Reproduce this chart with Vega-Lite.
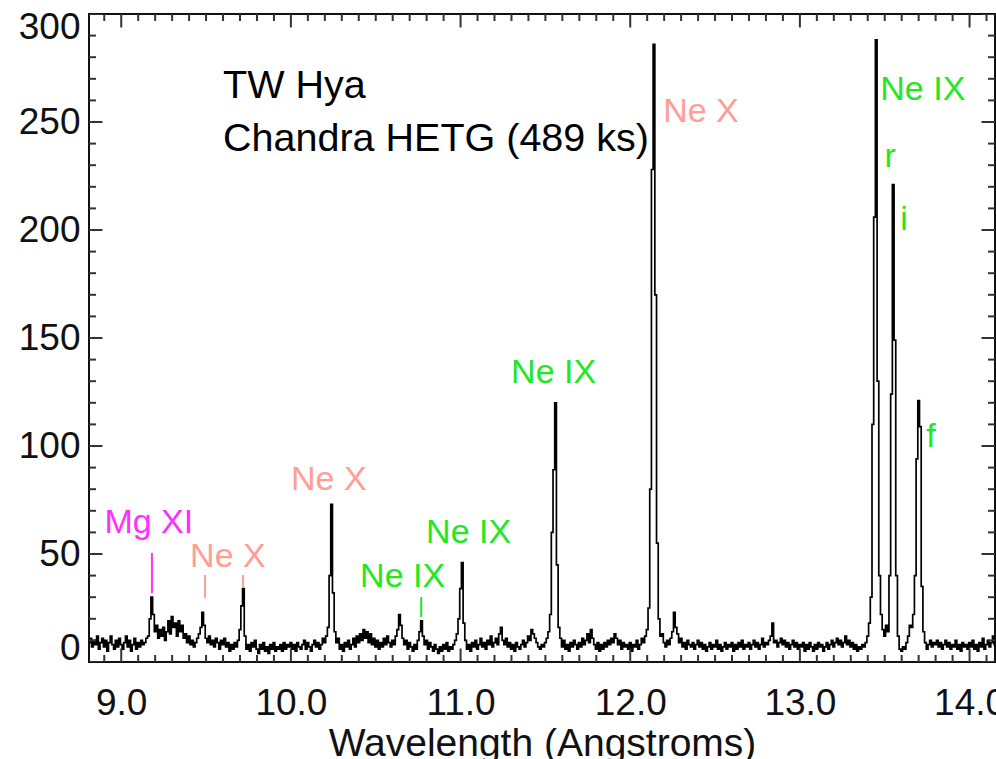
{
"$schema": "https://vega.github.io/schema/vega-lite/v6.json",
"width": 906, "height": 648,
"autosize": "none",
"padding": {"left": 89, "top": 14, "right": 1, "bottom": 97},
"background": "white",
"datasets": {
"spec": [
{"w":8.81,"c":9},{"w":8.82,"c":11},{"w":8.83,"c":7},{"w":8.84,"c":10},{"w":8.85,"c":8},{"w":8.86,"c":12},{"w":8.87,"c":6},{"w":8.88,"c":9},{"w":8.89,"c":11},{"w":8.90,"c":7},
{"w":8.91,"c":10},{"w":8.92,"c":5},{"w":8.93,"c":9},{"w":8.94,"c":12},{"w":8.95,"c":8},{"w":8.96,"c":6},{"w":8.97,"c":10},{"w":8.98,"c":7},{"w":8.99,"c":11},{"w":9.00,"c":8},
{"w":9.01,"c":6},{"w":9.02,"c":9},{"w":9.03,"c":12},{"w":9.04,"c":7},{"w":9.05,"c":10},{"w":9.06,"c":5},{"w":9.07,"c":8},{"w":9.08,"c":11},{"w":9.09,"c":6},{"w":9.10,"c":9},
{"w":9.11,"c":7},{"w":9.12,"c":10},{"w":9.13,"c":8},{"w":9.14,"c":9},{"w":9.15,"c":11},{"w":9.16,"c":12},{"w":9.17,"c":20},{"w":9.18,"c":30},{"w":9.19,"c":22},{"w":9.20,"c":14},
{"w":9.21,"c":17},{"w":9.22,"c":11},{"w":9.23,"c":15},{"w":9.24,"c":12},{"w":9.25,"c":16},{"w":9.26,"c":10},{"w":9.27,"c":14},{"w":9.28,"c":19},{"w":9.29,"c":13},{"w":9.30,"c":21},
{"w":9.31,"c":16},{"w":9.32,"c":18},{"w":9.33,"c":12},{"w":9.34,"c":19},{"w":9.35,"c":14},{"w":9.36,"c":17},{"w":9.37,"c":11},{"w":9.38,"c":13},{"w":9.39,"c":9},{"w":9.40,"c":12},
{"w":9.41,"c":8},{"w":9.42,"c":10},{"w":9.43,"c":7},{"w":9.44,"c":9},{"w":9.45,"c":11},{"w":9.46,"c":13},{"w":9.47,"c":16},{"w":9.48,"c":23},{"w":9.49,"c":17},{"w":9.50,"c":11},
{"w":9.51,"c":9},{"w":9.52,"c":12},{"w":9.53,"c":8},{"w":9.54,"c":10},{"w":9.55,"c":7},{"w":9.56,"c":11},{"w":9.57,"c":9},{"w":9.58,"c":6},{"w":9.59,"c":10},{"w":9.60,"c":8},
{"w":9.61,"c":11},{"w":9.62,"c":7},{"w":9.63,"c":9},{"w":9.64,"c":5},{"w":9.65,"c":8},{"w":9.66,"c":6},{"w":9.67,"c":9},{"w":9.68,"c":7},{"w":9.69,"c":10},{"w":9.70,"c":15},
{"w":9.71,"c":26},{"w":9.72,"c":34},{"w":9.73,"c":12},{"w":9.74,"c":6},{"w":9.75,"c":8},{"w":9.76,"c":5},{"w":9.77,"c":9},{"w":9.78,"c":7},{"w":9.79,"c":10},{"w":9.80,"c":6},
{"w":9.81,"c":4},{"w":9.82,"c":8},{"w":9.83,"c":6},{"w":9.84,"c":9},{"w":9.85,"c":5},{"w":9.86,"c":7},{"w":9.87,"c":4},{"w":9.88,"c":8},{"w":9.89,"c":6},{"w":9.90,"c":9},
{"w":9.91,"c":5},{"w":9.92,"c":7},{"w":9.93,"c":6},{"w":9.94,"c":8},{"w":9.95,"c":5},{"w":9.96,"c":9},{"w":9.97,"c":6},{"w":9.98,"c":8},{"w":9.99,"c":7},{"w":10.00,"c":9},
{"w":10.01,"c":6},{"w":10.02,"c":8},{"w":10.03,"c":5},{"w":10.04,"c":9},{"w":10.05,"c":7},{"w":10.06,"c":6},{"w":10.07,"c":8},{"w":10.08,"c":10},{"w":10.09,"c":6},{"w":10.10,"c":9},
{"w":10.11,"c":7},{"w":10.12,"c":5},{"w":10.13,"c":8},{"w":10.14,"c":10},{"w":10.15,"c":7},{"w":10.16,"c":9},{"w":10.17,"c":6},{"w":10.18,"c":8},{"w":10.19,"c":11},{"w":10.20,"c":9},
{"w":10.21,"c":12},{"w":10.22,"c":16},{"w":10.23,"c":40},{"w":10.24,"c":73},{"w":10.25,"c":32},{"w":10.26,"c":14},{"w":10.27,"c":9},{"w":10.28,"c":11},{"w":10.29,"c":6},{"w":10.30,"c":8},
{"w":10.31,"c":5},{"w":10.32,"c":9},{"w":10.33,"c":7},{"w":10.34,"c":10},{"w":10.35,"c":6},{"w":10.36,"c":8},{"w":10.37,"c":11},{"w":10.38,"c":7},{"w":10.39,"c":12},{"w":10.40,"c":9},
{"w":10.41,"c":13},{"w":10.42,"c":10},{"w":10.43,"c":15},{"w":10.44,"c":11},{"w":10.45,"c":14},{"w":10.46,"c":9},{"w":10.47,"c":13},{"w":10.48,"c":8},{"w":10.49,"c":11},{"w":10.50,"c":7},
{"w":10.51,"c":10},{"w":10.52,"c":6},{"w":10.53,"c":9},{"w":10.54,"c":7},{"w":10.55,"c":11},{"w":10.56,"c":8},{"w":10.57,"c":12},{"w":10.58,"c":9},{"w":10.59,"c":7},{"w":10.60,"c":10},
{"w":10.61,"c":8},{"w":10.62,"c":12},{"w":10.63,"c":15},{"w":10.64,"c":22},{"w":10.65,"c":17},{"w":10.66,"c":11},{"w":10.67,"c":8},{"w":10.68,"c":10},{"w":10.69,"c":6},{"w":10.70,"c":9},
{"w":10.71,"c":7},{"w":10.72,"c":5},{"w":10.73,"c":8},{"w":10.74,"c":6},{"w":10.75,"c":10},{"w":10.76,"c":14},{"w":10.77,"c":19},{"w":10.78,"c":12},{"w":10.79,"c":8},{"w":10.80,"c":10},
{"w":10.81,"c":6},{"w":10.82,"c":9},{"w":10.83,"c":7},{"w":10.84,"c":5},{"w":10.85,"c":8},{"w":10.86,"c":6},{"w":10.87,"c":4},{"w":10.88,"c":7},{"w":10.89,"c":5},{"w":10.90,"c":8},
{"w":10.91,"c":6},{"w":10.92,"c":9},{"w":10.93,"c":5},{"w":10.94,"c":7},{"w":10.95,"c":6},{"w":10.96,"c":8},{"w":10.97,"c":10},{"w":10.98,"c":13},{"w":10.99,"c":20},{"w":11.00,"c":34},
{"w":11.01,"c":46},{"w":11.02,"c":18},{"w":11.03,"c":10},{"w":11.04,"c":6},{"w":11.05,"c":8},{"w":11.06,"c":5},{"w":11.07,"c":9},{"w":11.08,"c":7},{"w":11.09,"c":10},{"w":11.10,"c":6},
{"w":11.11,"c":8},{"w":11.12,"c":11},{"w":11.13,"c":7},{"w":11.14,"c":9},{"w":11.15,"c":6},{"w":11.16,"c":10},{"w":11.17,"c":8},{"w":11.18,"c":12},{"w":11.19,"c":7},{"w":11.20,"c":9},
{"w":11.21,"c":11},{"w":11.22,"c":8},{"w":11.23,"c":13},{"w":11.24,"c":16},{"w":11.25,"c":10},{"w":11.26,"c":8},{"w":11.27,"c":11},{"w":11.28,"c":7},{"w":11.29,"c":9},{"w":11.30,"c":6},
{"w":11.31,"c":8},{"w":11.32,"c":5},{"w":11.33,"c":9},{"w":11.34,"c":7},{"w":11.35,"c":6},{"w":11.36,"c":8},{"w":11.37,"c":10},{"w":11.38,"c":7},{"w":11.39,"c":9},{"w":11.40,"c":12},
{"w":11.41,"c":10},{"w":11.42,"c":15},{"w":11.43,"c":13},{"w":11.44,"c":11},{"w":11.45,"c":9},{"w":11.46,"c":7},{"w":11.47,"c":6},{"w":11.48,"c":8},{"w":11.49,"c":7},{"w":11.50,"c":9},
{"w":11.51,"c":11},{"w":11.52,"c":14},{"w":11.53,"c":22},{"w":11.54,"c":60},{"w":11.55,"c":89},{"w":11.56,"c":120},{"w":11.57,"c":45},{"w":11.58,"c":16},{"w":11.59,"c":11},{"w":11.60,"c":7},
{"w":11.61,"c":10},{"w":11.62,"c":6},{"w":11.63,"c":8},{"w":11.64,"c":5},{"w":11.65,"c":9},{"w":11.66,"c":7},{"w":11.67,"c":10},{"w":11.68,"c":8},{"w":11.69,"c":6},{"w":11.70,"c":9},
{"w":11.71,"c":7},{"w":11.72,"c":11},{"w":11.73,"c":8},{"w":11.74,"c":10},{"w":11.75,"c":13},{"w":11.76,"c":9},{"w":11.77,"c":15},{"w":11.78,"c":11},{"w":11.79,"c":8},{"w":11.80,"c":6},
{"w":11.81,"c":9},{"w":11.82,"c":5},{"w":11.83,"c":8},{"w":11.84,"c":6},{"w":11.85,"c":9},{"w":11.86,"c":7},{"w":11.87,"c":10},{"w":11.88,"c":8},{"w":11.89,"c":11},{"w":11.90,"c":9},
{"w":11.91,"c":13},{"w":11.92,"c":11},{"w":11.93,"c":8},{"w":11.94,"c":10},{"w":11.95,"c":6},{"w":11.96,"c":9},{"w":11.97,"c":7},{"w":11.98,"c":8},{"w":11.99,"c":6},{"w":12.00,"c":9},
{"w":12.01,"c":5},{"w":12.02,"c":8},{"w":12.03,"c":7},{"w":12.04,"c":10},{"w":12.05,"c":6},{"w":12.06,"c":8},{"w":12.07,"c":11},{"w":12.08,"c":9},{"w":12.09,"c":12},{"w":12.10,"c":15},
{"w":12.11,"c":25},{"w":12.12,"c":80},{"w":12.13,"c":228},{"w":12.14,"c":286},{"w":12.15,"c":170},{"w":12.16,"c":55},{"w":12.17,"c":20},{"w":12.18,"c":12},{"w":12.19,"c":13},{"w":12.20,"c":9},
{"w":12.21,"c":7},{"w":12.22,"c":10},{"w":12.23,"c":8},{"w":12.24,"c":11},{"w":12.25,"c":14},{"w":12.26,"c":23},{"w":12.27,"c":16},{"w":12.28,"c":13},{"w":12.29,"c":9},{"w":12.30,"c":11},
{"w":12.31,"c":7},{"w":12.32,"c":9},{"w":12.33,"c":6},{"w":12.34,"c":10},{"w":12.35,"c":8},{"w":12.36,"c":7},{"w":12.37,"c":9},{"w":12.38,"c":6},{"w":12.39,"c":8},{"w":12.40,"c":10},
{"w":12.41,"c":7},{"w":12.42,"c":9},{"w":12.43,"c":6},{"w":12.44,"c":8},{"w":12.45,"c":5},{"w":12.46,"c":7},{"w":12.47,"c":9},{"w":12.48,"c":6},{"w":12.49,"c":8},{"w":12.50,"c":7},
{"w":12.51,"c":10},{"w":12.52,"c":6},{"w":12.53,"c":8},{"w":12.54,"c":5},{"w":12.55,"c":7},{"w":12.56,"c":9},{"w":12.57,"c":6},{"w":12.58,"c":8},{"w":12.59,"c":7},{"w":12.60,"c":9},
{"w":12.61,"c":5},{"w":12.62,"c":8},{"w":12.63,"c":6},{"w":12.64,"c":9},{"w":12.65,"c":7},{"w":12.66,"c":10},{"w":12.67,"c":6},{"w":12.68,"c":8},{"w":12.69,"c":7},{"w":12.70,"c":9},
{"w":12.71,"c":6},{"w":12.72,"c":8},{"w":12.73,"c":10},{"w":12.74,"c":7},{"w":12.75,"c":9},{"w":12.76,"c":6},{"w":12.77,"c":8},{"w":12.78,"c":11},{"w":12.79,"c":7},{"w":12.80,"c":9},
{"w":12.81,"c":8},{"w":12.82,"c":10},{"w":12.83,"c":12},{"w":12.84,"c":18},{"w":12.85,"c":9},{"w":12.86,"c":10},{"w":12.87,"c":7},{"w":12.88,"c":9},{"w":12.89,"c":11},{"w":12.90,"c":8},
{"w":12.91,"c":10},{"w":12.92,"c":7},{"w":12.93,"c":9},{"w":12.94,"c":6},{"w":12.95,"c":8},{"w":12.96,"c":10},{"w":12.97,"c":7},{"w":12.98,"c":9},{"w":12.99,"c":6},{"w":13.00,"c":8},
{"w":13.01,"c":7},{"w":13.02,"c":9},{"w":13.03,"c":5},{"w":13.04,"c":8},{"w":13.05,"c":6},{"w":13.06,"c":9},{"w":13.07,"c":7},{"w":13.08,"c":5},{"w":13.09,"c":8},{"w":13.10,"c":6},
{"w":13.11,"c":9},{"w":13.12,"c":7},{"w":13.13,"c":8},{"w":13.14,"c":5},{"w":13.15,"c":7},{"w":13.16,"c":9},{"w":13.17,"c":6},{"w":13.18,"c":8},{"w":13.19,"c":10},{"w":13.20,"c":7},
{"w":13.21,"c":9},{"w":13.22,"c":11},{"w":13.23,"c":8},{"w":13.24,"c":10},{"w":13.25,"c":7},{"w":13.26,"c":9},{"w":13.27,"c":12},{"w":13.28,"c":8},{"w":13.29,"c":10},{"w":13.30,"c":7},
{"w":13.31,"c":9},{"w":13.32,"c":6},{"w":13.33,"c":8},{"w":13.34,"c":5},{"w":13.35,"c":7},{"w":13.36,"c":6},{"w":13.37,"c":8},{"w":13.38,"c":7},{"w":13.39,"c":9},{"w":13.40,"c":12},
{"w":13.41,"c":18},{"w":13.42,"c":30},{"w":13.43,"c":110},{"w":13.44,"c":206},{"w":13.45,"c":288},{"w":13.46,"c":130},{"w":13.47,"c":40},{"w":13.48,"c":22},{"w":13.49,"c":15},{"w":13.50,"c":12},
{"w":13.51,"c":17},{"w":13.52,"c":14},{"w":13.53,"c":40},{"w":13.54,"c":124},{"w":13.55,"c":221},{"w":13.56,"c":149},{"w":13.57,"c":40},{"w":13.58,"c":12},{"w":13.59,"c":6},{"w":13.60,"c":5},
{"w":13.61,"c":7},{"w":13.62,"c":6},{"w":13.63,"c":9},{"w":13.64,"c":12},{"w":13.65,"c":17},{"w":13.66,"c":16},{"w":13.67,"c":22},{"w":13.68,"c":40},{"w":13.69,"c":94},{"w":13.70,"c":121},
{"w":13.71,"c":109},{"w":13.72,"c":35},{"w":13.73,"c":14},{"w":13.74,"c":9},{"w":13.75,"c":6},{"w":13.76,"c":8},{"w":13.77,"c":10},{"w":13.78,"c":7},{"w":13.79,"c":9},{"w":13.80,"c":8},
{"w":13.81,"c":10},{"w":13.82,"c":7},{"w":13.83,"c":9},{"w":13.84,"c":6},{"w":13.85,"c":8},{"w":13.86,"c":10},{"w":13.87,"c":7},{"w":13.88,"c":9},{"w":13.89,"c":6},{"w":13.90,"c":8},
{"w":13.91,"c":7},{"w":13.92,"c":10},{"w":13.93,"c":6},{"w":13.94,"c":8},{"w":13.95,"c":5},{"w":13.96,"c":9},{"w":13.97,"c":7},{"w":13.98,"c":8},{"w":13.99,"c":6},{"w":14.00,"c":9},
{"w":14.01,"c":7},{"w":14.02,"c":10},{"w":14.03,"c":6},{"w":14.04,"c":8},{"w":14.05,"c":5},{"w":14.06,"c":9},{"w":14.07,"c":7},{"w":14.08,"c":11},{"w":14.09,"c":6},{"w":14.10,"c":8},
{"w":14.11,"c":10},{"w":14.12,"c":7},{"w":14.13,"c":9},{"w":14.14,"c":12},{"w":14.15,"c":8}
],
"notes": [
{"w":9.60,"c":261.0,"t":"TW Hya"},
{"w":9.60,"c":236.6,"t":"Chandra HETG (489 ks)"}
],
"labels": [
{"w":8.901,"c":59.7,"t":"Mg XI","ion":"Mg XI"},
{"w":9.406,"c":44.0,"t":"Ne X","ion":"Ne X"},
{"w":10.001,"c":79.6,"t":"Ne X","ion":"Ne X"},
{"w":10.408,"c":34.7,"t":"Ne IX","ion":"Ne IX"},
{"w":10.797,"c":55.1,"t":"Ne IX","ion":"Ne IX"},
{"w":11.298,"c":129.2,"t":"Ne IX","ion":"Ne IX"},
{"w":12.194,"c":250.0,"t":"Ne X","ion":"Ne X"},
{"w":13.474,"c":260.2,"t":"Ne IX","ion":"Ne IX"},
{"w":13.498,"c":229.2,"t":"r","ion":"Ne IX"},
{"w":13.592,"c":200.0,"t":"i","ion":"Ne IX"},
{"w":13.745,"c":99.5,"t":"f","ion":"Ne IX"}
],
"ticks": [
{"w":9.181,"c":31.9,"c2":50.5,"ion":"Mg XI"},
{"w":9.494,"c":29.6,"c2":40.3,"ion":"Ne X"},
{"w":9.718,"c":34.7,"c2":40.3,"ion":"Ne X"},
{"w":10.768,"c":20.8,"c2":30.1,"ion":"Ne IX"}
],
"xt": [
{"v":8.9,"k":"minor"},{"v":9,"k":"major"},{"v":9.1,"k":"minor"},{"v":9.2,"k":"minor"},{"v":9.3,"k":"minor"},{"v":9.4,"k":"minor"},{"v":9.5,"k":"minor"},{"v":9.6,"k":"minor"},{"v":9.7,"k":"minor"},{"v":9.8,"k":"minor"},{"v":9.9,"k":"minor"},
{"v":10,"k":"major"},{"v":10.1,"k":"minor"},{"v":10.2,"k":"minor"},{"v":10.3,"k":"minor"},{"v":10.4,"k":"minor"},{"v":10.5,"k":"minor"},{"v":10.6,"k":"minor"},{"v":10.7,"k":"minor"},{"v":10.8,"k":"minor"},{"v":10.9,"k":"minor"},
{"v":11,"k":"major"},{"v":11.1,"k":"minor"},{"v":11.2,"k":"minor"},{"v":11.3,"k":"minor"},{"v":11.4,"k":"minor"},{"v":11.5,"k":"minor"},{"v":11.6,"k":"minor"},{"v":11.7,"k":"minor"},{"v":11.8,"k":"minor"},{"v":11.9,"k":"minor"},
{"v":12,"k":"major"},{"v":12.1,"k":"minor"},{"v":12.2,"k":"minor"},{"v":12.3,"k":"minor"},{"v":12.4,"k":"minor"},{"v":12.5,"k":"minor"},{"v":12.6,"k":"minor"},{"v":12.7,"k":"minor"},{"v":12.8,"k":"minor"},{"v":12.9,"k":"minor"},
{"v":13,"k":"major"},{"v":13.1,"k":"minor"},{"v":13.2,"k":"minor"},{"v":13.3,"k":"minor"},{"v":13.4,"k":"minor"},{"v":13.5,"k":"minor"},{"v":13.6,"k":"minor"},{"v":13.7,"k":"minor"},{"v":13.8,"k":"minor"},{"v":13.9,"k":"minor"},
{"v":14,"k":"major"},{"v":14.1,"k":"minor"}
],
"yt": [
{"v":0,"k":"major"},{"v":10,"k":"minor"},{"v":20,"k":"minor"},{"v":30,"k":"minor"},{"v":40,"k":"minor"},
{"v":50,"k":"major"},{"v":60,"k":"minor"},{"v":70,"k":"minor"},{"v":80,"k":"minor"},{"v":90,"k":"minor"},
{"v":100,"k":"major"},{"v":110,"k":"minor"},{"v":120,"k":"minor"},{"v":130,"k":"minor"},{"v":140,"k":"minor"},
{"v":150,"k":"major"},{"v":160,"k":"minor"},{"v":170,"k":"minor"},{"v":180,"k":"minor"},{"v":190,"k":"minor"},
{"v":200,"k":"major"},{"v":210,"k":"minor"},{"v":220,"k":"minor"},{"v":230,"k":"minor"},{"v":240,"k":"minor"},
{"v":250,"k":"major"},{"v":260,"k":"minor"},{"v":270,"k":"minor"},{"v":280,"k":"minor"},{"v":290,"k":"minor"},
{"v":300,"k":"major"}
]
},
"config": {
"view": {"stroke": "#111", "strokeWidth": 2},
"axis": {"domain": false, "grid": false, "ticks": false, "labelFont": "Liberation Sans", "labelFontSize": 37, "labelColor": "#111", "titleFont": "Liberation Sans", "titleFontSize": 39, "titleFontWeight": "normal", "titleColor": "#111"},
"text": {"font": "Liberation Sans"}
},
"layer": [
{
"data": {"name": "spec"},
"mark": {"type": "line", "interpolate": "step", "color": "#000", "strokeWidth": 1.7},
"encoding": {
"x": {"field": "w", "type": "quantitative", "scale": {"domain": [8.81, 14.15], "nice": false, "zero": false},
 "axis": {"orient": "bottom", "values": [9,10,11,12,13,14], "ticks": false, "labelPadding": 23, "labelFlush": false, "title": "Wavelength (Angstroms)", "titleY": 93, "titleBaseline": "alphabetic"}},
"y": {"field": "c", "type": "quantitative", "scale": {"domain": [0, 300], "nice": false, "zero": true},
 "axis": {"orient": "left", "values": [0,50,100,150,200,250,300], "ticks": false, "labelPadding": 9, "labelFlush": true, "labelFlushOffset": 5, "title": null}}
}
},
{
"data": {"name": "xt"},
"mark": {"type": "tick", "orient": "vertical", "clip": true, "color": "#333", "opacity": 1, "thickness": 2},
"encoding": {
"x": {"field": "v", "type": "quantitative"},
"y": {"datum": 0, "type": "quantitative"},
"size": {"field": "k", "type": "ordinal", "scale": {"domain": ["major", "minor"], "range": [27, 14]}, "legend": null}
}
},
{
"data": {"name": "xt"},
"mark": {"type": "tick", "orient": "vertical", "clip": true, "color": "#333", "opacity": 1, "thickness": 2},
"encoding": {
"x": {"field": "v", "type": "quantitative"},
"y": {"datum": 300, "type": "quantitative"},
"size": {"field": "k", "type": "ordinal", "scale": {"domain": ["major", "minor"], "range": [27, 14]}, "legend": null}
}
},
{
"data": {"name": "yt"},
"mark": {"type": "tick", "orient": "horizontal", "clip": true, "color": "#333", "opacity": 1, "thickness": 2},
"encoding": {
"y": {"field": "v", "type": "quantitative"},
"x": {"datum": 8.81, "type": "quantitative"},
"size": {"field": "k", "type": "ordinal", "scale": {"domain": ["major", "minor"], "range": [27, 14]}, "legend": null}
}
},
{
"data": {"name": "yt"},
"mark": {"type": "tick", "orient": "horizontal", "clip": true, "color": "#333", "opacity": 1, "thickness": 2},
"encoding": {
"y": {"field": "v", "type": "quantitative"},
"x": {"datum": 14.15, "type": "quantitative"},
"size": {"field": "k", "type": "ordinal", "scale": {"domain": ["major", "minor"], "range": [27, 14]}, "legend": null}
}
},
{
"data": {"name": "notes"},
"mark": {"type": "text", "align": "left", "baseline": "alphabetic", "fontSize": 39.5, "color": "#000"},
"encoding": {
"x": {"field": "w", "type": "quantitative"},
"y": {"field": "c", "type": "quantitative"},
"text": {"field": "t"}
}
},
{
"data": {"name": "labels"},
"mark": {"type": "text", "align": "left", "baseline": "alphabetic", "fontSize": 34},
"encoding": {
"x": {"field": "w", "type": "quantitative"},
"y": {"field": "c", "type": "quantitative"},
"color": {"field": "ion", "type": "nominal", "scale": {"domain": ["Mg XI", "Ne X", "Ne IX"], "range": ["#FF30FF", "#FF9E94", "#22E822"]}, "legend": null},
"text": {"field": "t"}
}
},
{
"data": {"name": "ticks"},
"mark": {"type": "rule", "strokeWidth": 2},
"encoding": {
"x": {"field": "w", "type": "quantitative"},
"y": {"field": "c", "type": "quantitative"},
"y2": {"field": "c2"},
"color": {"field": "ion", "type": "nominal", "scale": {"domain": ["Mg XI", "Ne X", "Ne IX"], "range": ["#FF30FF", "#FF9E94", "#22E822"]}, "legend": null}
}
}
]
}
